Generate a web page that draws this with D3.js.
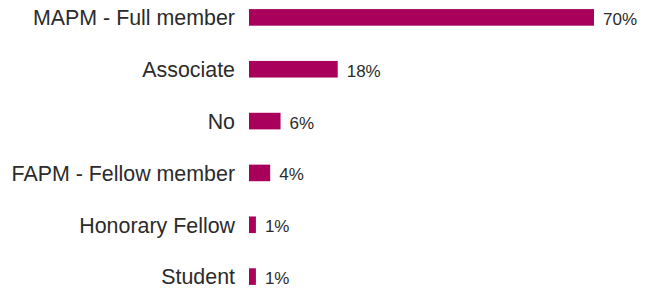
<!DOCTYPE html>
<html>
<head>
<meta charset="utf-8">
<script src="https://cdn.jsdelivr.net/npm/d3@7"></script>
<style>
  html, body { margin: 0; padding: 0; background: #fff; }
  svg { display: block; }
</style>
</head>
<body>
<svg id="chart" width="650" height="289"></svg>
<script>
const categories = ["MAPM - Full member", "Associate", "No", "FAPM - Fellow member", "Honorary Fellow", "Student"];
const values = [70, 18, 6.4, 4.3, 1.4, 1.4];
const valueLabels = ["70%", "18%", "6%", "4%", "1%", "1%"];

const svg = d3.select("#chart");
const x = d3.scaleLinear().domain([0, 70]).range([249, 594]);
const y = d3.scalePoint().domain(categories).range([17.4, 276.6]);
const barH = 16.6;
const barColor = "#a8005b";
const textColor = "#2b2b2b";

const rows = svg.selectAll("g.row")
  .data(categories.map((c, i) => ({ c, v: values[i], l: valueLabels[i] })))
  .join("g").attr("class", "row");

rows.append("rect")
  .attr("x", x(0))
  .attr("y", d => y(d.c) - barH / 2)
  .attr("width", d => x(d.v) - x(0))
  .attr("height", barH)
  .attr("fill", barColor);

rows.append("text")
  .attr("x", 235)
  .attr("y", d => y(d.c) + 7.8)
  .attr("text-anchor", "end")
  .attr("font-family", "Liberation Sans, Arial, sans-serif")
  .attr("font-size", 21.4)
  .attr("fill", textColor)
  .text(d => d.c);

rows.append("text")
  .attr("x", d => x(d.v) + 9)
  .attr("y", d => y(d.c) + 7.5)
  .attr("font-family", "Liberation Sans, Arial, sans-serif")
  .attr("font-size", 17)
  .attr("fill", textColor)
  .text(d => d.l);
</script>
</body>
</html>
